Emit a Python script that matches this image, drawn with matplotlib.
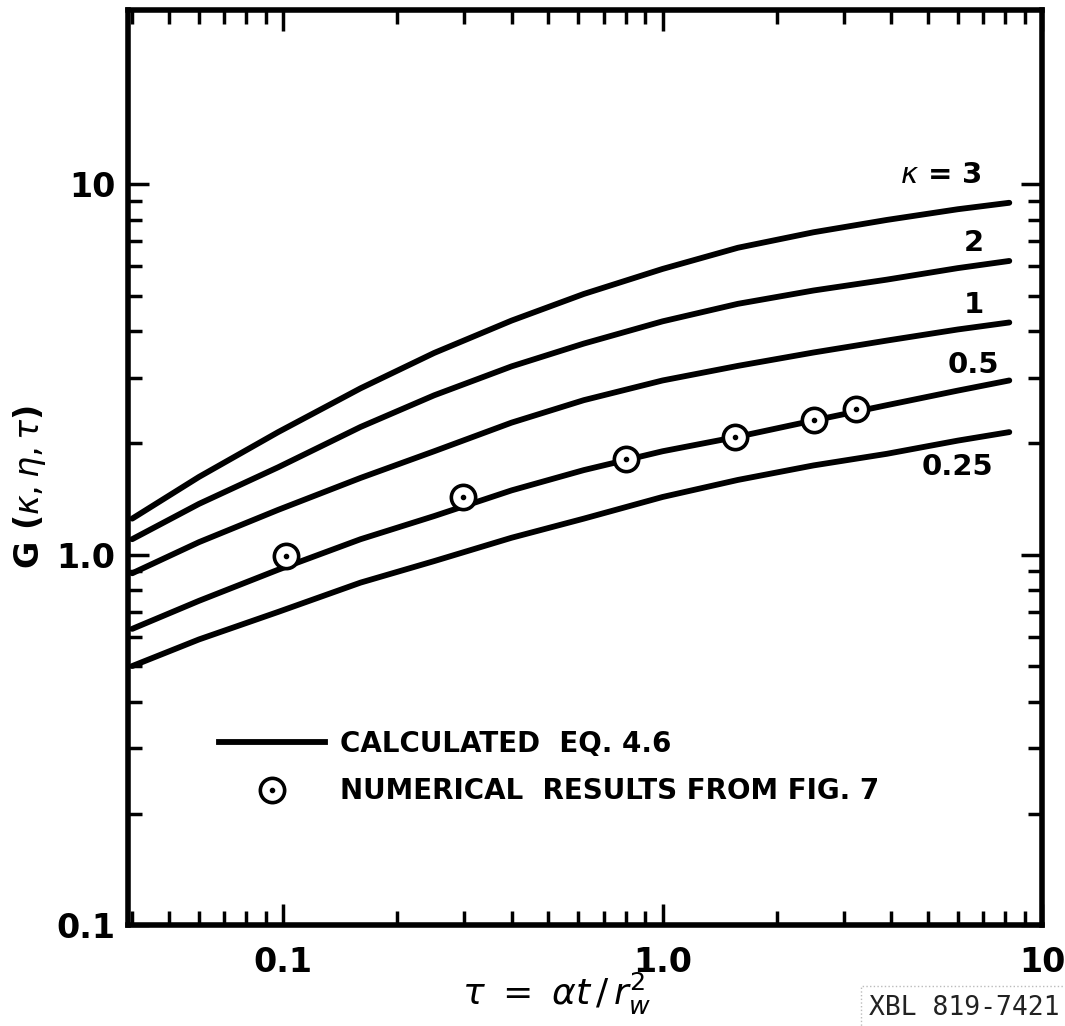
import matplotlib
matplotlib.use("Agg")
import matplotlib.pyplot as plt
from matplotlib.ticker import FixedLocator, FixedFormatter, NullFormatter
from matplotlib.lines import Line2D

plt.rcParams['font.family'] = 'DejaVu Sans'
plt.rcParams['mathtext.fontset'] = 'dejavusans'

# values (tau, G)
tau_calc = [0.04, 0.06, 0.097, 0.16, 0.25, 0.4, 0.62, 1.0, 1.58, 2.5, 3.9, 6.0, 8.2]
g_k3 = [1.25, 1.62, 2.14, 2.81, 3.50, 4.28, 5.05, 5.90, 6.73, 7.41, 8.00, 8.55, 8.90]
g_k2 = [1.10, 1.37, 1.72, 2.21, 2.69, 3.22, 3.71, 4.26, 4.75, 5.16, 5.52, 5.93, 6.20]
g_k1 = [0.89, 1.08, 1.32, 1.61, 1.90, 2.27, 2.61, 2.95, 3.23, 3.51, 3.78, 4.05, 4.23]
g_k05 = [0.63, 0.75, 0.91, 1.10, 1.27, 1.49, 1.69, 1.90, 2.08, 2.30, 2.53, 2.77, 2.95]
g_k025 = [0.50, 0.59, 0.70, 0.84, 0.96, 1.11, 1.25, 1.43, 1.59, 1.74, 1.87, 2.03, 2.14]

tau_num = [0.102, 0.298, 0.80, 1.55, 2.50, 3.23]
g_num = [0.99, 1.43, 1.81, 2.07, 2.31, 2.47]

curve_labels = [r'$\kappa$ = 3', '2', '1', '0.5', '0.25']
label_pos = [(5.4, 10.6), (6.6, 6.95), (6.6, 4.72), (6.6, 3.25), (6.0, 1.72)]

fig = plt.figure(figsize=(10.65, 10.26), dpi=100)
ax = fig.add_axes([0.1202, 0.0984, 0.8582, 0.8919])

for g in [g_k3, g_k2, g_k1, g_k05, g_k025]:
    ax.plot(tau_calc, g, color='k', lw=4.2, solid_capstyle='round', solid_joinstyle='round')

ax.plot(tau_num, g_num, 'o', ms=17.5, mfc='white', mec='k', mew=2.6, zorder=3)
ax.plot(tau_num, g_num, '.', color='k', ms=6, zorder=4)

for txt, (x, y) in zip(curve_labels, label_pos):
    ax.text(x, y, txt, fontsize=21, fontweight='bold', ha='center', va='center')

ax.set_xscale('log')
ax.set_yscale('log')
ax.set_xlim(0.039, 10)
ax.set_ylim(0.1, 29.5)

ax.xaxis.set_major_locator(FixedLocator([0.1, 1, 10]))
ax.xaxis.set_major_formatter(FixedFormatter(['0.1', '1.0', '10']))
ax.xaxis.set_minor_locator(FixedLocator([k * 10.0 ** e for e in (-2, -1, 0) for k in range(2, 10)]))
ax.xaxis.set_minor_formatter(NullFormatter())
ax.yaxis.set_major_locator(FixedLocator([0.1, 1, 10]))
ax.yaxis.set_major_formatter(FixedFormatter(['0.1', '1.0', '10']))
ax.yaxis.set_minor_locator(FixedLocator([k * 10.0 ** e for e in (-1, 0) for k in range(2, 10)]))
ax.yaxis.set_minor_formatter(NullFormatter())

ax.tick_params(which='both', direction='in', top=True, right=True, width=2.5)
ax.tick_params(which='major', length=15, labelsize=24)
ax.tick_params(axis='x', which='major', pad=15)
ax.tick_params(axis='y', which='major', pad=9)
ax.tick_params(which='minor', length=10)
for lab in ax.get_xticklabels() + ax.get_yticklabels():
    lab.set_fontweight('bold')
for sp in ax.spines.values():
    sp.set_linewidth(4)

ax.set_xlabel(r'$\tau\ =\ \alpha t\,/\,r_w^2$', fontsize=26)
ax.xaxis.set_label_coords(0.469, -0.05)
ax.set_ylabel(r'G ($\kappa,\eta,\tau$)', fontsize=24, fontweight='bold')
ax.yaxis.set_label_coords(-0.088, 0.479)

h_line = Line2D([], [], color='k', lw=4.2)
h_ring = Line2D([], [], ls='none', marker='o', ms=17.5, mfc='white', mec='k', mew=2.6)
h_dot = Line2D([], [], ls='none', marker='.', color='k', ms=6)
leg = ax.legend([h_line, (h_ring, h_dot)],
                ['CALCULATED  EQ. 4.6', 'NUMERICAL  RESULTS FROM FIG. 7'],
                loc='upper left', bbox_to_anchor=(0.1, 0.2131), frameon=False,
                borderpad=0, borderaxespad=0, handlelength=3.8, handletextpad=0.55,
                labelspacing=0.7, prop={'size': 20, 'weight': 'bold'})

fig.text(0.995, 0.005, 'XBL 819-7421', fontsize=19, family='DejaVu Sans Mono',
         ha='right', va='bottom', color='#222222',
         bbox=dict(facecolor='none', edgecolor='#bbbbbb', linestyle=':', pad=6))

fig.savefig('out.png', dpi=100)
